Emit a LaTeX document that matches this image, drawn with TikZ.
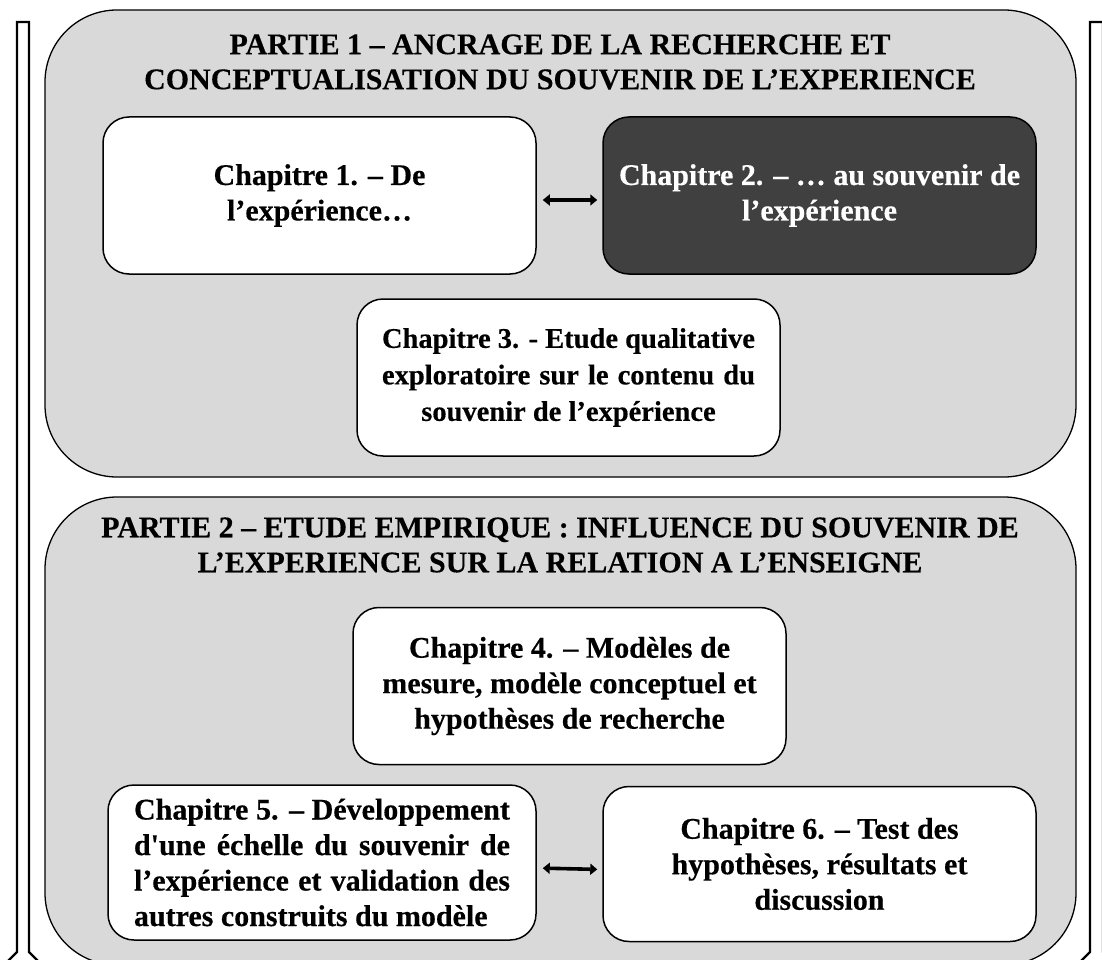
\documentclass[tikz,border=0pt]{standalone}
\usepackage{fontspec}
\setmainfont{Liberation Serif}[Ligatures=TeXOff, BoldFeatures={FakeBold=0.35}]
\usetikzlibrary{arrows.meta}
\definecolor{partgray}{HTML}{D9D9D9}
\definecolor{darkbox}{HTML}{404040}
\tikzset{
  partbox/.style={draw=black, line width=1.3pt, fill=partgray, rounded corners=72pt, inner sep=0pt},
  title/.style={align=center, font=\fontsize{30}{35}\selectfont\bfseries, inner sep=0pt},
  chap/.style={draw=black, line width=1.5pt, fill=white, rounded corners=26pt, align=center,
    inner sep=0pt, font=\fontsize{30}{35.5}\selectfont\bfseries},
  biarrow/.style={line width=3.6pt, {Triangle[length=7pt,width=11pt]}-{Triangle[length=7pt,width=11pt]}},
  sidearrow/.style={draw=black, line width=2.2pt, fill=white, line join=miter}
}
\begin{document}
\begin{tikzpicture}[x=1pt,y=-1pt]
\useasboundingbox (0,0) rectangle (1102,960);
\clip (0,0) rectangle (1102,960);
% side arrows
\draw[sidearrow] (17,22) -- (29,22) -- (29,952) -- (40,963) -- (23,980) -- (6,963) -- (17,952) -- cycle;
\draw[sidearrow] (1090,22) -- (1103,22) -- (1103,952) -- (1114,963) -- (1096.5,980) -- (1079,963) -- (1090,952) -- cycle;
% part boxes
\node[partbox, minimum width=1031pt, minimum height=467pt] (p1) at (560.5,243.5) {};
\node[partbox, minimum width=1031pt, minimum height=468pt] (p2) at (560.5,731) {};
\node[title] (t1) at (560,62) {PARTIE 1 – ANCRAGE DE LA RECHERCHE ET\\CONCEPTUALISATION DU SOUVENIR DE L’EXPERIENCE};
\node[title] (t2) at (560,545) {PARTIE 2 – ETUDE EMPIRIQUE : INFLUENCE DU SOUVENIR DE\\L’EXPERIENCE SUR LA RELATION A L’ENSEIGNE};
% chapters
\node[chap, minimum width=433pt, minimum height=157pt] (c1) at (319.5,195.5) {Chapitre 1. – De\\l’expérience…};
\node[chap, fill=darkbox, text=white, minimum width=433pt, minimum height=157pt] (c2) at (819.5,195.5) {Chapitre 2. – … au souvenir de\\l’expérience};
\node[chap, minimum width=423pt, minimum height=157pt, font=\fontsize{28.5}{36.5}\selectfont\bfseries] (c3) at (568.5,377.5)
  {\makebox[373pt][s]{Chapitre 3. - Etude qualitative}\\\makebox[373pt][s]{exploratoire sur le contenu du}\\souvenir de l’expérience};
\node[chap, minimum width=433pt, minimum height=157pt] (c4) at (569.5,686) {Chapitre 4. – Modèles de\\mesure, modèle conceptuel et\\hypothèses de recherche};
\node[chap, minimum width=428pt, minimum height=155pt, font=\fontsize{30}{35.5}\selectfont\bfseries] (c5) at (322,862.5)
  {\makebox[376pt][s]{Chapitre 5. – Développement}\\\makebox[376pt][s]{d'une échelle du souvenir de}\\\makebox[376pt][s]{l’expérience et validation des}\\\makebox[376pt][l]{autres construits du modèle}};
\node[chap, minimum width=433pt, minimum height=155pt] (c6) at (819.5,864) {Chapitre 6. – Test des\\hypothèses, résultats et\\discussion};
% connectors
\draw[biarrow, shorten <=6pt, shorten >=5pt] ([yshift=-4.5pt]c1.east) -- ([yshift=-4.5pt]c2.west);
\draw[biarrow, shorten <=6pt, shorten >=5pt] ([yshift=-5.5pt]c5.east) -- ([yshift=-5.5pt]c6.west);
\end{tikzpicture}
\end{document}
